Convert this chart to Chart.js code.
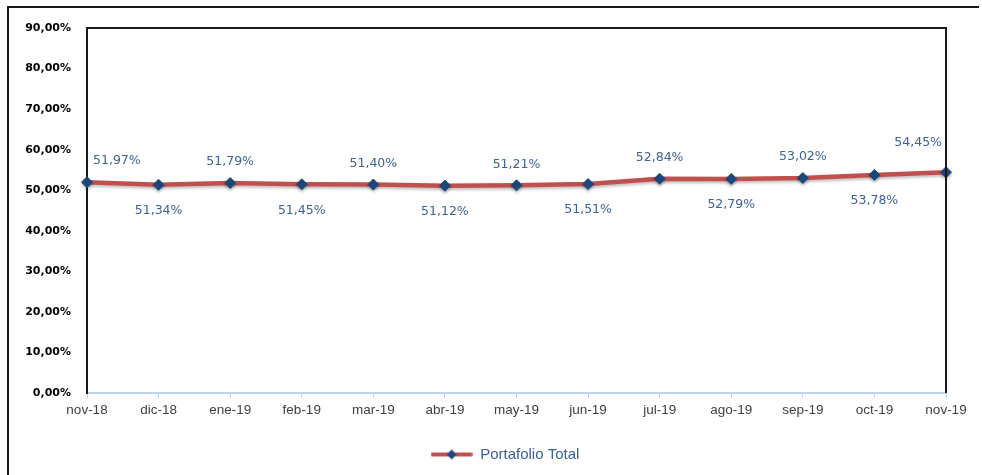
<!DOCTYPE html>
<html lang="es">
<head>
    <meta charset="UTF-8">
    <title>Portafolio Total</title>
    <script src="https://cdn.jsdelivr.net/npm/chart.js"></script>
    <style>
        body {
            margin: 0;
            padding: 0;
            background: #fff;
            overflow: hidden;
        }
        .frame {
            position: absolute;
            left: 7px;
            top: 6px;
            width: 970px;
            height: 475px;
            border-left: 2px solid #1a1a1a;
            border-top: 2px solid #1a1a1a;
        }
        .chart-box {
            position: absolute;
            left: 0;
            top: 0;
            width: 982px;
            height: 475px;
        }
    </style>
</head>
<body>
    <div class="frame"></div>
    <div class="chart-box">
        <canvas id="portfolioChart"></canvas>
    </div>

    <script>
        // data
        const months = ['nov-18', 'dic-18', 'ene-19', 'feb-19', 'mar-19', 'abr-19', 'may-19',
                        'jun-19', 'jul-19', 'ago-19', 'sep-19', 'oct-19', 'nov-19'];
        const portafolioTotal = [51.97, 51.34, 51.79, 51.45, 51.40, 51.12, 51.21,
                                 51.51, 52.84, 52.79, 53.02, 53.78, 54.45];
        const seriesName = 'Portafolio Total';
        const yMin = 0;
        const yMax = 90;
        const yStep = 10;

        const lineColor = '#C0504D';
        const markerColor = '#1F497D';
        const labelColor = '#3E6294';

        function pct(v) {
            return v.toFixed(2).replace('.', ',') + '%';
        }

        // legend marker: red line with a blue diamond
        const legendIcon = document.createElement('canvas');
        legendIcon.width = 42;
        legendIcon.height = 14;
        (function () {
            const c = legendIcon.getContext('2d');
            c.strokeStyle = lineColor;
            c.lineWidth = 4;
            c.lineCap = 'round';
            c.beginPath();
            c.moveTo(2, 7);
            c.lineTo(40, 7);
            c.stroke();
            c.fillStyle = markerColor;
            c.beginPath();
            c.moveTo(21, 2);
            c.lineTo(26, 7);
            c.lineTo(21, 12);
            c.lineTo(16, 7);
            c.closePath();
            c.fill();
        })();

        // black frame around the plot area (top and right; left is the y border)
        const plotFrame = {
            id: 'plotFrame',
            afterDraw(chart) {
                const { ctx, chartArea: a } = chart;
                ctx.save();
                ctx.strokeStyle = '#1a1a1a';
                ctx.lineWidth = 2;
                ctx.beginPath();
                ctx.moveTo(a.left, a.top);
                ctx.lineTo(a.right, a.top);
                ctx.lineTo(a.right, a.bottom);
                ctx.stroke();
                ctx.restore();
            }
        };

        // legend sits a bit right of the plot centre in the original
        const legendShift = {
            id: 'legendShift',
            afterLayout(chart) {
                chart.legend.left += 22;
                chart.legend.right += 22;
            }
        };

        // soft shadow under the line, like the spreadsheet chart
        const lineShadow = {
            id: 'lineShadow',
            beforeDatasetsDraw(chart) {
                const ctx = chart.ctx;
                ctx.save();
                ctx.shadowColor = 'rgba(0,0,0,0.25)';
                ctx.shadowBlur = 3;
                ctx.shadowOffsetY = 2;
            },
            afterDatasetsDraw(chart) {
                chart.ctx.restore();
            }
        };

        // value labels, alternating above / below the points
        const valueLabels = {
            id: 'valueLabels',
            afterDatasetsDraw(chart) {
                const { ctx, chartArea: a } = chart;
                const meta = chart.getDatasetMeta(0);
                ctx.save();
                ctx.font = '12.5px "DejaVu Sans", sans-serif';
                ctx.fillStyle = labelColor;
                ctx.textBaseline = 'middle';
                ctx.textAlign = 'center';
                meta.data.forEach((pt, i) => {
                    const text = pct(portafolioTotal[i]);
                    const w = ctx.measureText(text).width;
                    let x = pt.x;
                    x = Math.max(x, a.left + w / 2 + 6);
                    x = Math.min(x, a.right - w / 2 - 4);
                    let y = i % 2 === 0 ? pt.y - 21 : pt.y + 26;
                    // label pushed against the right border gets lifted clear of it
                    if (pt.x > a.right - w / 2 - 4) y -= 8;
                    ctx.fillText(text, x, y);
                });
                ctx.restore();
            }
        };

        new Chart(document.getElementById('portfolioChart'), {
            type: 'line',
            data: {
                labels: months,
                datasets: [{
                    label: seriesName,
                    data: portafolioTotal,
                    borderColor: lineColor,
                    backgroundColor: markerColor,
                    borderWidth: 4.5,
                    pointStyle: 'rectRot',
                    pointRadius: 5.5,
                    pointBackgroundColor: markerColor,
                    pointBorderColor: markerColor,
                    pointBorderWidth: 1,
                    tension: 0,
                    clip: false
                }]
            },
            plugins: [legendShift, lineShadow, valueLabels, plotFrame],
            options: {
                responsive: true,
                maintainAspectRatio: false,
                animation: false,
                layout: {
                    padding: { left: 20, right: 36, top: 28, bottom: 3 }
                },
                scales: {
                    x: {
                        offset: false,
                        grid: {
                            display: true,
                            drawOnChartArea: false,
                            drawTicks: true,
                            tickLength: 5,
                            color: '#BDD3EC'
                        },
                        border: { display: true, color: '#BDD3EC', width: 2 },
                        ticks: {
                            color: '#404040',
                            font: { family: '"Liberation Sans", Arial, sans-serif', size: 13.5 },
                            padding: 4,
                            maxRotation: 0,
                            autoSkip: false
                        },
                        afterFit(scale) { scale.height = 44; }
                    },
                    y: {
                        min: yMin,
                        max: yMax,
                        grid: { display: false },
                        border: { display: true, color: '#1a1a1a', width: 2 },
                        ticks: {
                            stepSize: yStep,
                            color: '#000',
                            font: { family: '"DejaVu Sans", sans-serif', size: 11, weight: 'bold' },
                            padding: 8,
                            callback: (v) => pct(v)
                        },
                        afterFit(scale) { scale.width = 67; }
                    }
                },
                plugins: {
                    legend: {
                        position: 'bottom',
                        labels: {
                            usePointStyle: true,
                            pointStyle: legendIcon,
                            pointStyleWidth: 42,
                            color: '#3A5F95',
                            font: { family: '"Liberation Sans", Arial, sans-serif', size: 15 },
                            padding: 10,
                            generateLabels(chart) {
                                return [{
                                    text: seriesName,
                                    pointStyle: legendIcon,
                                    fillStyle: markerColor,
                                    strokeStyle: lineColor,
                                    lineWidth: 0,
                                    fontColor: '#3A5F95',
                                    datasetIndex: 0,
                                    hidden: false
                                }];
                            }
                        }
                    },
                    tooltip: { enabled: false }
                }
            }
        });
    </script>
</body>
</html>
